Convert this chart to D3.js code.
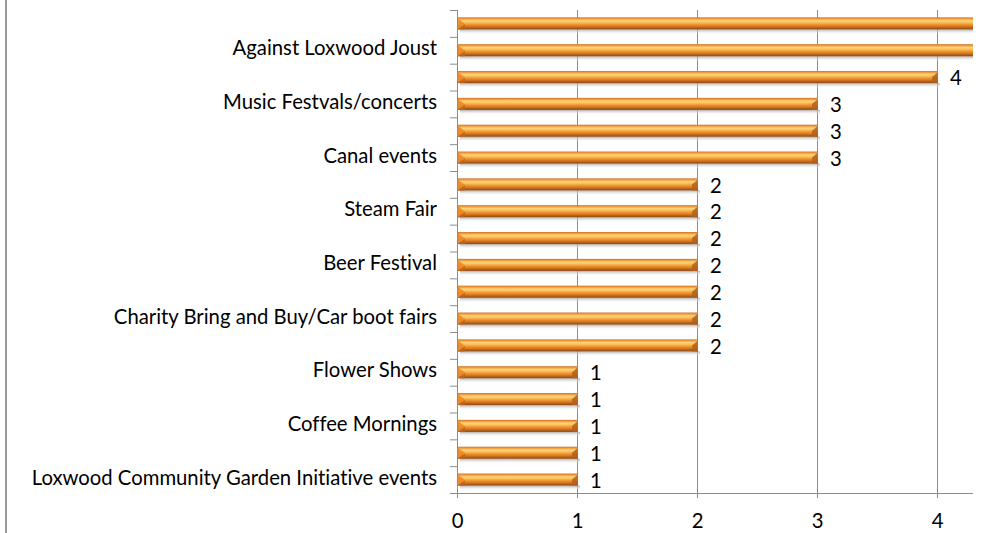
<!DOCTYPE html>
<html>
<head>
<meta charset="utf-8">
<script src="https://cdnjs.cloudflare.com/ajax/libs/d3/7.8.5/d3.min.js"></script>
<style>
  html, body { margin: 0; padding: 0; background: #fff; }
  svg { display: block; }
  text { font-family: Lato, "Open Sans", sans-serif; fill: #000; font-variant-ligatures: none; }
</style>
</head>
<body>
<svg id="chart" width="982" height="533"></svg>
<script>
// Categories, top to bottom (unlabelled rows are hidden by the original chart's label thinning)
const categories = [
  "", "Against Loxwood Joust", "", "Music Festvals/concerts", "", "Canal events",
  "", "Steam Fair", "", "Beer Festival", "", "Charity Bring and Buy/Car boot fairs",
  "", "Flower Shows", "", "Coffee Mornings", "", "Loxwood Community Garden Initiative events"
];
const values = [5, 5, 4, 3, 3, 3, 2, 2, 2, 2, 2, 2, 2, 1, 1, 1, 1, 1];
const xTicks = [0, 1, 2, 3, 4];

(function () {
const svg = d3.select("#chart");
const W = 982, H = 533;
const pL = 457, pR = 973, pT = 10, pB = 493;
const FS = 20.3;

const x = d3.scaleLinear().domain([0, 4.3]).range([pL, pR]);
const y = d3.scaleBand().domain(d3.range(categories.length)).range([pT, pB]).paddingInner(0.55).paddingOuter(0.275);
const band = d3.scaleBand().domain(d3.range(categories.length)).range([pT, pB]);

const defs = svg.append("defs");
const g1 = defs.append("linearGradient").attr("id", "barGrad").attr("x1", 0).attr("y1", 0).attr("x2", 0).attr("y2", 1);
[[0, "#c96c1e"], [0.1, "#ee9634"], [0.27, "#fdd27a"], [0.4, "#fcc45e"], [0.56, "#f29d36"], [0.76, "#d57520"], [1, "#8a4712"]]
  .forEach(([o, c]) => g1.append("stop").attr("offset", o).attr("stop-color", c));
const g2 = defs.append("linearGradient").attr("id", "shadowGrad").attr("x1", 0).attr("y1", 0).attr("x2", 0).attr("y2", 1);
[[0, "#a8a8a8", 0.9], [1, "#ffffff", 0]].forEach(([o, c, op]) => g2.append("stop").attr("offset", o).attr("stop-color", c).attr("stop-opacity", op));
defs.append("clipPath").attr("id", "plotClip").append("rect").attr("x", 0).attr("y", 0).attr("width", pR).attr("height", H);

// left border line
svg.append("line").attr("x1", 6).attr("x2", 6).attr("y1", 0).attr("y2", H).attr("stroke", "#9a9a9a").attr("stroke-width", 2);

// vertical gridlines + x axis
const xAxis = d3.axisBottom(x).tickValues(xTicks).tickSize(5).tickFormat(d3.format("d"));
const gx = svg.append("g").attr("transform", `translate(0,${pB})`).call(xAxis);
gx.select(".domain").remove();
gx.selectAll(".tick line").attr("stroke", "#8c8c8c").attr("y1", -(pB - pT)).attr("y2", 5);
gx.selectAll(".tick text").attr("font-size", FS).attr("y", 16).attr("dy", "0.95em").style("font-family", "Lato, sans-serif");
svg.append("line").attr("x1", pL).attr("x2", pR).attr("y1", pB + 0.5).attr("y2", pB + 0.5).attr("stroke", "#8c8c8c");

// y axis
const yAxis = d3.axisLeft(band).tickSize(0).tickFormat(i => categories[i]);
const gy = svg.append("g").attr("transform", `translate(${pL},0)`).call(yAxis);
gy.select(".domain").attr("stroke", "#8c8c8c").attr("d", `M0.5,${pT}V${pB + 5}`);
gy.selectAll(".tick text").attr("x", -20).attr("dy", "0.25em").attr("font-size", FS).style("font-family", "Lato, sans-serif");
// tick marks at band boundaries
svg.append("g").selectAll("line").data(d3.range(categories.length + 1)).join("line")
  .attr("x1", pL - 7).attr("x2", pL)
  .attr("y1", i => (i < categories.length ? band(i) : pB) + 0.5)
  .attr("y2", i => (i < categories.length ? band(i) : pB) + 0.5)
  .attr("stroke", "#8c8c8c");

// bars
const bars = svg.append("g").attr("clip-path", "url(#plotClip)");
const bh = y.bandwidth();
const rows = bars.selectAll("g.bar").data(values).join("g").attr("class", "bar");
rows.append("rect")
  .attr("x", x(0) + 3).attr("y", (d, i) => y(i) + bh)
  .attr("width", d => x(d) - x(0)).attr("height", 5)
  .attr("fill", "url(#shadowGrad)");
rows.append("rect")
  .attr("x", x(0) + 1).attr("y", (d, i) => y(i))
  .attr("width", d => x(d) - x(0)).attr("height", bh)
  .attr("fill", "url(#barGrad)");
// left bevel
rows.append("path")
  .attr("d", (d, i) => {
    const x0 = x(0) + 1, y0 = y(i);
    return `M${x0},${y0 + 1}L${x0 + 7},${y0 + bh * 0.55}L${x0},${y0 + bh}Z`;
  })
  .attr("fill", "#e98a2c").attr("opacity", 0.9);
rows.append("path")
  .attr("d", (d, i) => {
    const x0 = x(0) + 1, y0 = y(i);
    return `M${x0},${y0 + bh}L${x0 + 7},${y0 + bh * 0.55}L${x0 + 7},${y0 + bh}Z`;
  })
  .attr("fill", "#c0641c").attr("opacity", 0.8);
// right bevel
rows.append("path")
  .attr("d", (d, i) => {
    const x1 = x(d) + 1, y0 = y(i);
    return `M${x1},${y0 + 1}L${x1 - 6},${y0 + bh * 0.5}L${x1 - 6},${y0 + bh}L${x1},${y0 + bh}Z`;
  })
  .attr("fill", "#b3601c").attr("opacity", 0.85);

// value labels (labels beyond the visible axis range are clipped away in the original)
svg.append("g").selectAll("text").data(values.map((v, i) => ({ v, i })).filter(o => x(o.v) + 30 < pR + 10)).join("text")
  .attr("x", o => x(o.v) + 13)
  .attr("y", o => band(o.i) + band.bandwidth() / 2 + 1)
  .attr("dy", "0.35em")
  .attr("font-size", FS)
  .text(o => o.v);
})();
</script>
</body>
</html>
